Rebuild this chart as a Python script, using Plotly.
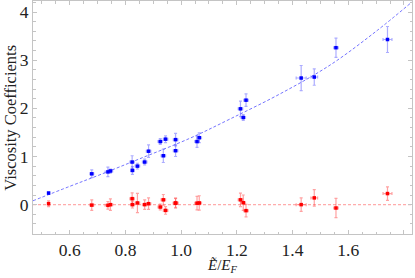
import plotly.graph_objects as go

# measured data (x = E~/E_F)
x_vals = [0.524, 0.679, 0.737, 0.746, 0.824, 0.825, 0.843, 0.869, 0.883, 0.925, 0.936, 0.944,
          0.980, 0.980, 1.057, 1.065, 1.213, 1.223, 1.233, 1.431, 1.478, 1.556, 1.741]
x_err = [0.003, 0.007, 0.010, 0.008, 0.008, 0.006, 0.008, 0.008, 0.008, 0.008, 0.008, 0.008,
         0.008, 0.008, 0.008, 0.008, 0.008, 0.008, 0.008, 0.018, 0.012, 0.008, 0.016]

# blue series
blue_y = [0.24, 0.64, 0.68, 0.70, 0.885, 0.71, 0.80, 0.885, 1.11, 1.31, 1.015, 1.36,
          1.35, 1.12, 1.31, 1.39, 1.99, 1.81, 2.17, 2.63, 2.65, 3.26, 3.43]
blue_yerr = [0.02, 0.08, 0.10, 0.04, 0.13, 0.08, 0.06, 0.06, 0.13, 0.06, 0.14, 0.07,
             0.13, 0.12, 0.12, 0.10, 0.16, 0.06, 0.13, 0.26, 0.17, 0.20, 0.27]

# red series
red_y = [0.02, -0.01, -0.015, 0.0, 0.124, 0.0, 0.035, 0.0, 0.02, -0.05, 0.10, -0.12,
         0.035, 0.03, 0.03, 0.035, 0.10, 0.04, -0.125, 0.0, 0.14, -0.07, 0.23]
red_yerr = [0.06, 0.11, 0.08, 0.12, 0.12, 0.07, 0.20, 0.10, 0.12, 0.06, 0.11, 0.08,
            0.10, 0.10, 0.14, 0.15, 0.14, 0.16, 0.13, 0.14, 0.17, 0.20, 0.14]

# fitted curve
fit_x = [0.468, 0.60, 0.708, 0.85, 1.032, 1.176, 1.355, 1.535, 1.70, 1.829]
fit_y = [0.08, 0.38, 0.62, 0.95, 1.38, 1.78, 2.30, 2.90, 3.60, 4.21]
zero_x = [0.468, 1.829]
zero_y = [0.0, 0.0]

x_ticks = [0.6, 0.8, 1.0, 1.2, 1.4, 1.6, 1.8]
y_ticks = [0, 1, 2, 3, 4]

BLUE = "#0000ff"
RED = "#ff0000"
FONT = "Liberation Serif, Times New Roman, serif"

fig = go.Figure()
fig.add_trace(go.Scatter(x=fit_x, y=fit_y, mode="lines", line_shape="spline",
                         line=dict(color="rgba(70,70,255,0.75)", width=1, dash="3px,2px"),
                         hoverinfo="skip"))
fig.add_trace(go.Scatter(x=zero_x, y=zero_y, mode="lines",
                         line=dict(color="rgba(255,90,90,0.5)", width=1.2, dash="3px,2px"),
                         hoverinfo="skip"))
fig.add_trace(go.Scatter(
    x=x_vals, y=blue_y, mode="markers",
    marker=dict(symbol="square", size=3.5, color=BLUE),
    error_y=dict(type="data", array=blue_yerr, color="rgba(70,70,255,0.45)", thickness=1.2, width=1.5),
    error_x=dict(type="data", array=x_err, color="rgba(70,70,255,0.45)", thickness=1.2, width=1.5),
))
fig.add_trace(go.Scatter(
    x=x_vals, y=red_y, mode="markers",
    marker=dict(symbol="square", size=3.5, color=RED),
    error_y=dict(type="data", array=red_yerr, color="rgba(255,70,70,0.5)", thickness=1.2, width=1.5),
    error_x=dict(type="data", array=x_err, color="rgba(255,70,70,0.5)", thickness=1.2, width=1.5),
))

axis_common = dict(showgrid=False, zeroline=False, showline=True, linecolor="#c4c4c4",
                   linewidth=1, mirror="ticks", ticks="inside", tickcolor="#c4c4c4",
                   ticklen=4, tickwidth=1, automargin=False,
                   tickfont=dict(family=FONT, size=17.5, color="#222"))
fig.update_xaxes(range=[0.468, 1.829], tickvals=x_ticks, ticktext=[f"{t:.1f}" for t in x_ticks],
                 minor=dict(dtick=0.05, ticklen=2.5, tickcolor="#c4c4c4", ticks="inside"),
                 **axis_common)
fig.update_yaxes(range=[-0.61, 4.23], tickvals=y_ticks, ticktext=[str(t) for t in y_ticks],
                 minor=dict(dtick=0.2, ticklen=2.5, tickcolor="#c4c4c4", ticks="inside"),
                 **axis_common)

fig.add_annotation(text="<i>Ẽ</i>/<i>E</i><sub><i>F</i></sub>", xref="paper", yref="paper",
                   x=0.5, y=-0.138, xanchor="center", yanchor="middle", showarrow=False,
                   font=dict(family=FONT, size=15, color="#222"))
fig.add_annotation(text="Viscosity Coefficients", xref="paper", yref="paper",
                   x=-0.06, y=0.5, xanchor="center", yanchor="middle", showarrow=False,
                   textangle=-90, font=dict(family=FONT, size=16.5, color="#222"))

fig.update_layout(width=415, height=278, margin=dict(l=33, r=3, t=1, b=44, autoexpand=False),
                  paper_bgcolor="white", plot_bgcolor="white", showlegend=False)

fig.write_html("out.html", config={"displayModeBar": False},
               post_script="document.body.style.margin='0';document.body.style.overflow='hidden';")
